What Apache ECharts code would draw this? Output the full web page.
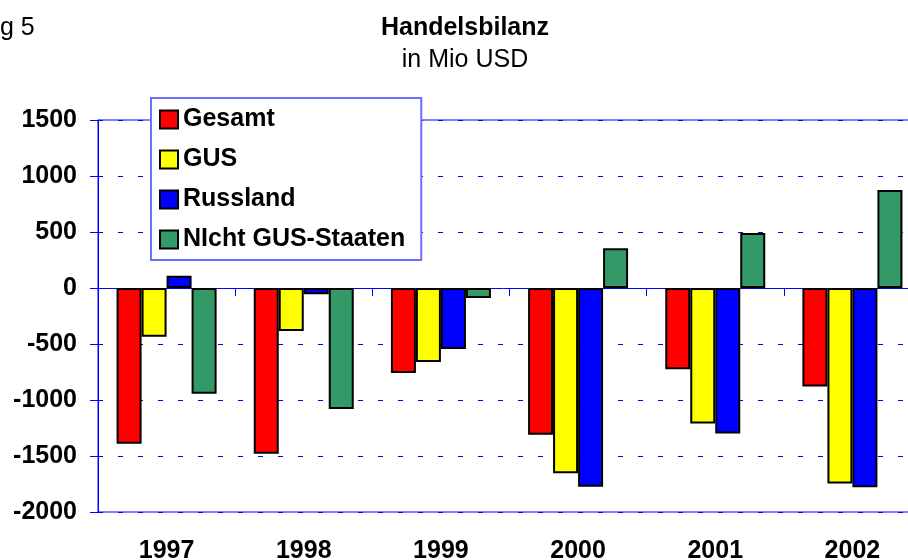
<!DOCTYPE html>
<html>
<head>
<meta charset="utf-8">
<script src="https://cdn.jsdelivr.net/npm/echarts@6/dist/echarts.min.js"></script>
<style>
  html, body { margin: 0; padding: 0; background: #fff; }
  #chart { width: 908px; height: 560px; }
</style>
</head>
<body>
<div id="chart"></div>
<script>
var years = ['1997', '1998', '1999', '2000', '2001', '2002'];
var gesamt = [-1390, -1480, -760, -1310, -725, -880];
var gus = [-435, -385, -660, -1655, -1210, -1745];
var russland = [110, -55, -545, -1775, -1300, -1780];
var nichtGus = [-945, -1080, -90, 355, 490, 875];
var yTicks = [-2000, 1500, 500];

var font = 'Liberation Sans, Arial, sans-serif';

var dom = document.getElementById('chart');
var myChart = echarts.init(dom, null, { renderer: 'canvas' });

function bar(name, data, color) {
  return {
    name: name,
    type: 'bar',
    data: data,
    barWidth: 25,
    barGap: '0%',
    itemStyle: { color: color, borderColor: '#000', borderWidth: 2 }
  };
}

var option = {
  animation: false,
  backgroundColor: '#fff',
  textStyle: { fontFamily: font },
  title: [
    {
      text: 'Handelsbilanz',
      subtext: 'in Mio USD',
      left: 465,
      top: 16,
      padding: 0,
      itemGap: 7,
      textAlign: 'center',
      textStyle: { fontFamily: font, fontSize: 25, fontWeight: 'bold', color: '#000' },
      subtextStyle: { fontFamily: font, fontSize: 25, color: '#000' }
    },
    {
      text: 'g 5',
      left: 0,
      top: 16,
      padding: 0,
      textStyle: { fontFamily: font, fontSize: 25, fontWeight: 'normal', color: '#000' }
    }
  ],
  legend: {
    orient: 'vertical',
    left: 151,
    top: 98,
    padding: [9, 16, 8, 8],
    itemGap: 15,
    itemWidth: 18,
    itemHeight: 18,
    icon: 'rect',
    backgroundColor: '#fff',
    borderColor: '#6f6fff',
    borderWidth: 2,
    textStyle: { fontFamily: font, fontSize: 25, fontWeight: 'bold', color: '#000' },
    z: 10
  },
  grid: {
    left: 98,
    top: 120,
    width: 823,
    bottom: 48,
    show: true,
    borderColor: '#0000ff',
    borderWidth: 1,
    containLabel: false,
    outerBoundsMode: 'none'
  },
  xAxis: [
    {
      type: 'category',
      data: years,
      axisLine: { onZero: true, lineStyle: { color: '#0000ff', width: 1 } },
      axisTick: { show: true, length: 8, lineStyle: { color: '#0000ff', width: 1 } },
      axisLabel: { show: false },
      splitLine: { show: false }
    },
    {
      type: 'category',
      data: years,
      position: 'bottom',
      axisLine: { show: false },
      axisTick: { show: false },
      axisLabel: { margin: 27, fontFamily: font, fontSize: 25, fontWeight: 'bold', color: '#000' },
      splitLine: { show: false }
    }
  ],
  yAxis: {
    type: 'value',
    min: yTicks[0],
    max: yTicks[1],
    interval: yTicks[2],
    axisLine: { show: true, lineStyle: { color: '#0000ff', width: 1 } },
    axisTick: { show: true, length: 8, lineStyle: { color: '#0000ff' } },
    axisLabel: {
      margin: 21, fontFamily: font, fontSize: 25, fontWeight: 'bold', color: '#000',
      formatter: function (v) { return String(v); }
    },
    splitLine: { show: true, lineStyle: { color: '#0000ff', width: 1, type: [5, 15] } }
  },
  series: [
    bar('Gesamt', gesamt, '#ff0000'),
    bar('GUS', gus, '#ffff00'),
    bar('Russland', russland, '#0000ff'),
    bar('NIcht GUS-Staaten', nichtGus, '#339966')
  ]
};

if (option && typeof option === 'object') {
  myChart.setOption(option);
}

window.addEventListener('resize', myChart.resize);
</script>
</body>
</html>
